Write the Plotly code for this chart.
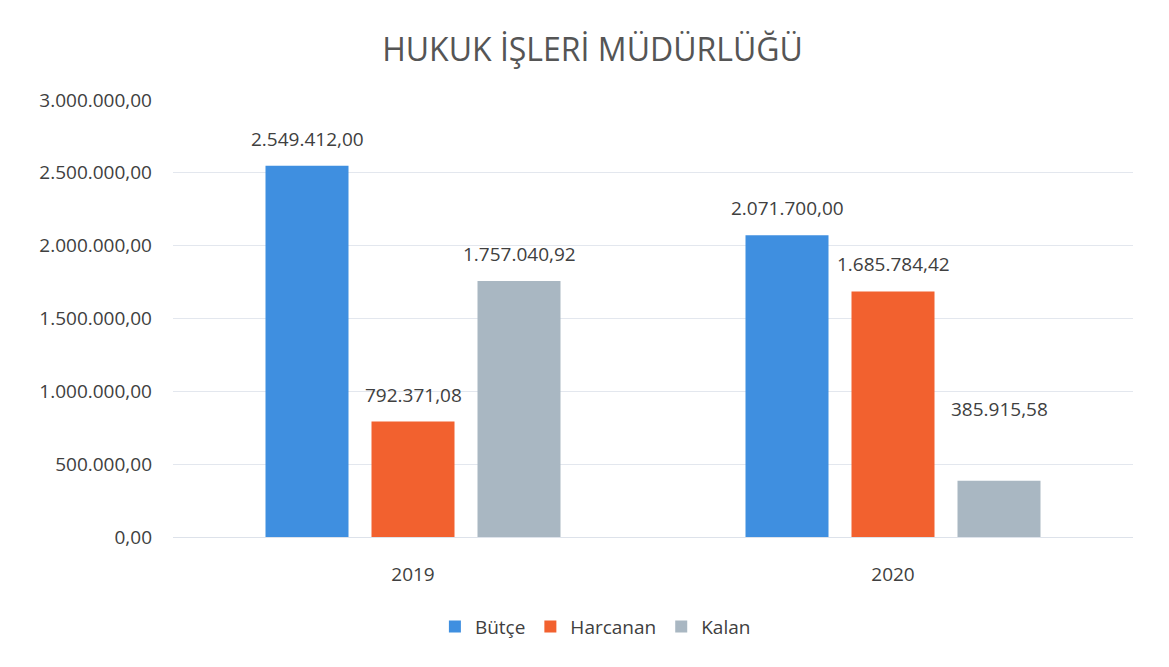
import plotly.graph_objects as go

categories = ["2019", "2020"]
butce = [2549412.00, 2071700.00]
harcanan = [792371.08, 1685784.42]
kalan = [1757040.92, 385915.58]
series_names = ["Bütçe", "Harcanan", "Kalan"]
title_text = "HUKUK İŞLERİ MÜDÜRLÜĞÜ"
y_ticks = [0, 500000, 1000000, 1500000, 2000000, 2500000, 3000000]

colors = ["#3f8fe0", "#f2612f", "#a9b7c2"]
label_shift = [[27, 27], [27, 27], [27, 72]]  # pixel lift of value labels
FONT = "'Open Sans', Lato, sans-serif"
TXT = "#404040"

def tr(v):
    s = f"{v:,.2f}"
    return s.replace(",", "X").replace(".", ",").replace("X", ".")

bargap = 0.3375
bargroupgap = 0.217
series = [butce, harcanan, kalan]

fig = go.Figure()
for name, vals, col in zip(series_names, series, colors):
    fig.add_trace(go.Bar(name=name, x=categories, y=vals, marker_color=col,
                         marker_line_width=0))

slot = (1 - bargap) / len(series)
ann = []
for si, vals in enumerate(series):
    off = (si - (len(series) - 1) / 2) * slot
    for ci, v in enumerate(vals):
        ann.append(dict(x=ci + off, y=v, xref="x", yref="y", text=tr(v),
                        showarrow=False, yshift=label_shift[si][ci],
                        font=dict(family=FONT, size=19, color=TXT)))

fig.update_layout(
    width=1169, height=667,
    paper_bgcolor="white", plot_bgcolor="white",
    barmode="group", bargap=bargap, bargroupgap=bargroupgap,
    margin=dict(l=165, r=44, t=92, b=138),
    title=dict(text=title_text, x=0.5, xanchor="center", y=0.937, yanchor="middle",
               font=dict(family=FONT, size=32, color="#555555")),
    font=dict(family=FONT, size=19, color=TXT),
    legend=dict(orientation="h", x=0.44, xanchor="center", y=-0.205, yanchor="middle",
                font=dict(family=FONT, size=19, color=TXT), itemwidth=30,
                traceorder="normal"),
    annotations=ann,
    showlegend=True,
)
fig.update_yaxes(range=[0, 3000000], tickvals=y_ticks, ticktext=[tr(t) for t in y_ticks],
                 showgrid=True, gridcolor="#e3e7ee", gridwidth=1, zeroline=True,
                 zerolinecolor="#dde2ea", zerolinewidth=1, showline=False,
                 tickfont=dict(family=FONT, size=19, color=TXT), ticklabelstandoff=20)
fig.update_xaxes(showline=False, showgrid=False, ticks="",
                 tickfont=dict(family=FONT, size=19, color=TXT), ticklabelstandoff=24)

fig.write_html("out.html")
